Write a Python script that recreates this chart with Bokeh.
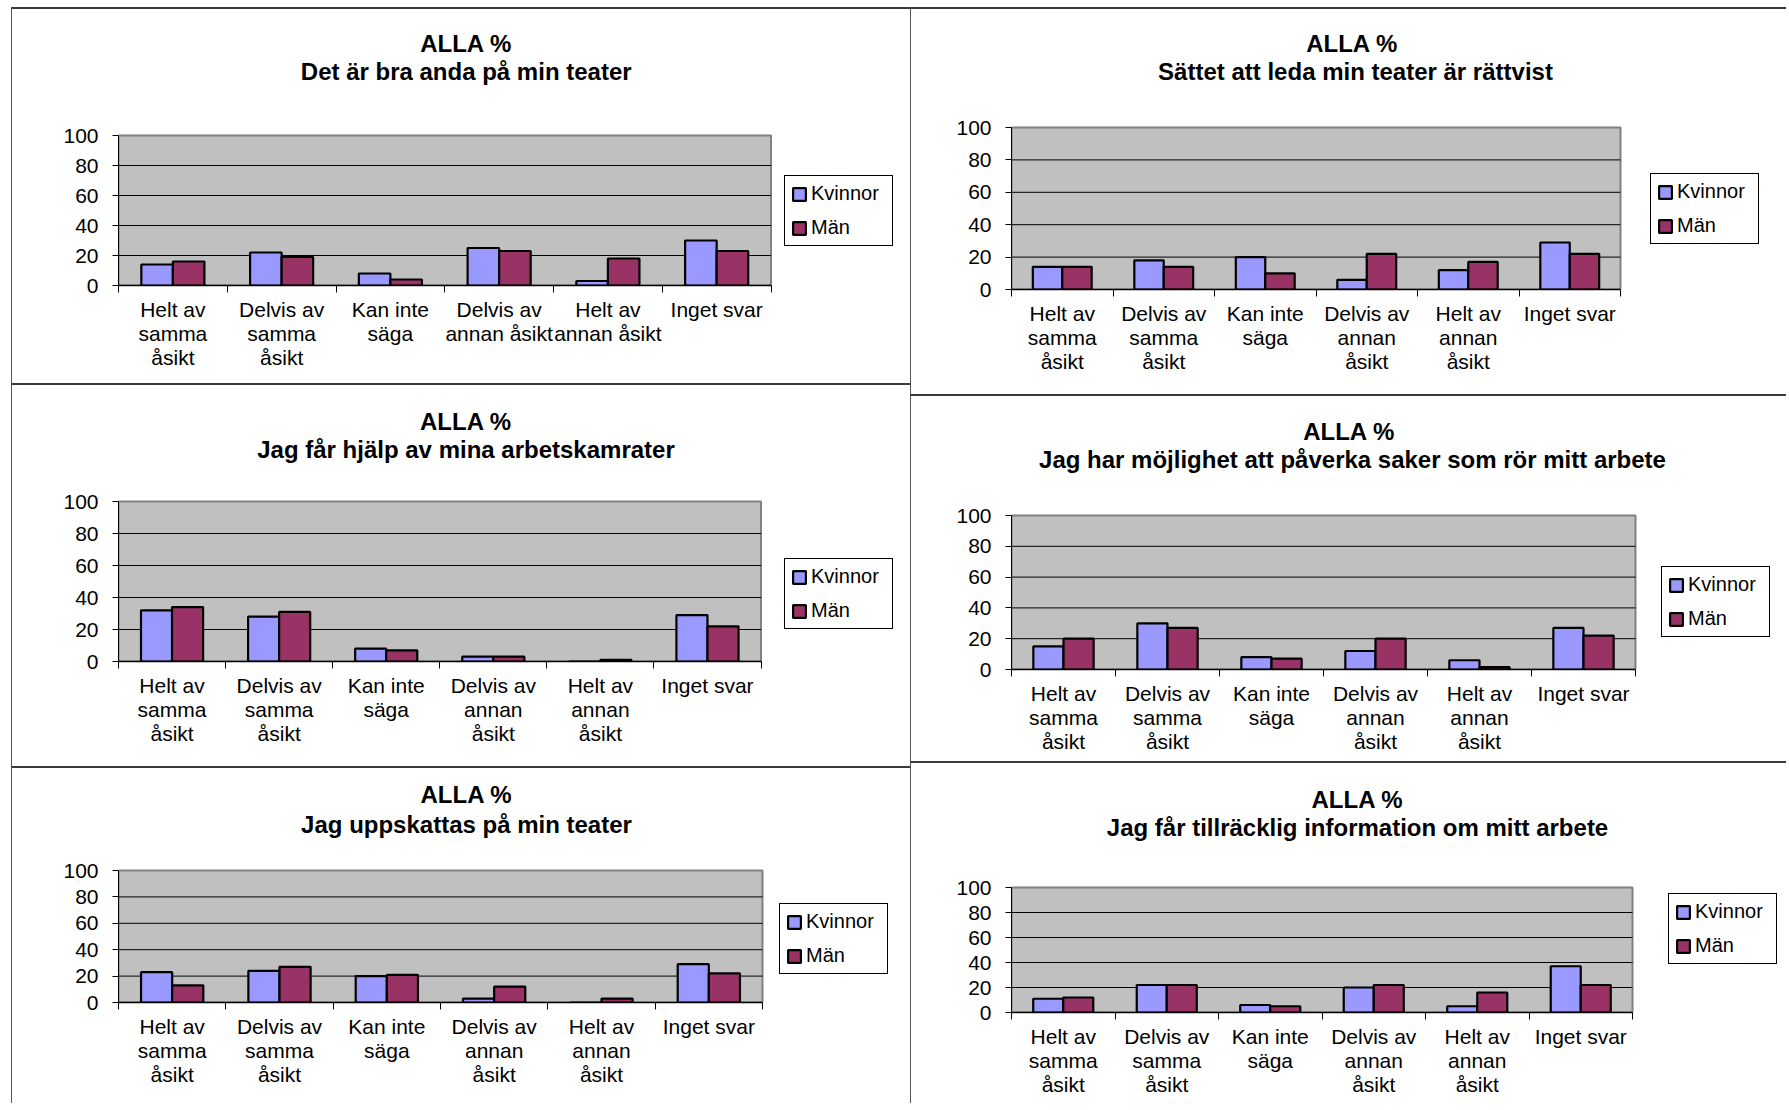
import numpy as np
from bokeh.plotting import figure
from bokeh.models import Range1d, FixedTicker, Legend, LegendItem, Spacer, Label, BoxAnnotation
from bokeh.layouts import row, column
from bokeh.embed import file_html
from bokeh.resources import INLINE

# ---------------- data ----------------
series_names = ["Kvinnor", "Män"]
categories = ["Helt av samma åsikt", "Delvis av samma åsikt", "Kan inte säga",
              "Delvis av annan åsikt", "Helt av annan åsikt", "Inget svar"]
tick_labels_narrow = ["Helt av\nsamma\nåsikt", "Delvis av\nsamma\nåsikt", "Kan inte\nsäga",
                      "Delvis av\nannan åsikt", "Helt av\nannan åsikt", "Inget svar"]
tick_labels = ["Helt av\nsamma\nåsikt", "Delvis av\nsamma\nåsikt", "Kan inte\nsäga",
               "Delvis av\nannan\nåsikt", "Helt av\nannan\nåsikt", "Inget svar"]
y_ticks = [0, 20, 40, 60, 80, 100]
y_max = 100

headers = ["ALLA %", "ALLA  %", "ALLA %", "ALLA  %", "ALLA %", "ALLA %"]
questions = ["Det är bra anda på min teater",
             "Sättet att leda min teater är rättvist",
             "Jag får hjälp av mina arbetskamrater",
             "Jag har möjlighet att påverka saker som rör mitt arbete",
             "Jag uppskattas på min teater",
             "Jag får tillräcklig information om mitt arbete"]

kvinnor_1 = [14, 22, 8, 25, 3, 30]
man_1 = [16, 19, 4, 23, 18, 23]
kvinnor_2 = [14, 18, 20, 6, 12, 29]
man_2 = [14, 14, 10, 22, 17, 22]
kvinnor_3 = [32, 28, 8, 3, 0, 29]
man_3 = [34, 31, 7, 3, 1, 22]
kvinnor_4 = [15, 30, 8, 12, 6, 27]
man_4 = [20, 27, 7, 20, 1.5, 22]
kvinnor_5 = [23, 24, 20, 3, 0, 29]
man_5 = [13, 27, 21, 12, 3, 22]
kvinnor_6 = [11, 22, 6, 20, 5, 37]
man_6 = [12, 22, 5, 22, 16, 22]

# ---------------- layout geometry (page pixels) ----------------
panel_boxes = [(11, 7, 911, 385), (911, 7, 1788, 396), (11, 385, 911, 770),
               (911, 396, 1788, 765), (11, 770, 911, 1109), (911, 765, 1788, 1109)]
frame_boxes = [(115, 135, 770, 285), (1012, 127, 1621, 289), (110, 503, 759, 663),
               (1012, 517, 1636, 671), (118, 874, 762, 1006), (1012, 891, 1633, 1016)]
title_places = [(464, 43, 71), (1356, 43, 71), (461, 423, 451),
                (1353, 433, 461), (466, 798, 828), (1358, 803, 831)]
legend_boxes = [(781, 179, 888, 246), (1651, 177, 1757, 244), (776, 564, 883, 631),
                (1662, 572, 1769, 639), (779, 912, 886, 978), (1669, 900, 1776, 968)]

FONT = "Liberation Sans"
K_COLOR = "#9999FF"
M_COLOR = "#993366"
BT, BL = 2, 1          # css border widths (top, left)


def make_panel(i, labels, kv, mn):
    px0, py0, px1, py1 = panel_boxes[i]
    fx0, fy0, fx1, fy1 = frame_boxes[i]
    n = len(categories)
    ox, oy = px0 + BL, py0 + BT
    w, h = px1 - ox, py1 - oy
    # plot area spans categories 0..n and values 0..y_max; the frame is extended
    # to the right and upward so that titles and legend live inside it
    x_end = n * (px1 - fx0) / (fx1 - fx0)
    y_end = y_max * (fy1 - oy) / (fy1 - fy0)

    def xd(px):
        return n * (px - fx0) / (fx1 - fx0)

    def yd(py):
        return y_max * (fy1 - py) / (fy1 - fy0)

    p = figure(width=w, height=h, output_backend="svg", toolbar_location=None,
               x_range=Range1d(0, x_end), y_range=Range1d(0, y_end),
               min_border_left=fx0 - ox, min_border_right=0,
               min_border_top=0, min_border_bottom=py1 - fy1,
               background_fill_color="white", border_fill_color="white")
    p.styles = {"border-top": f"{BT}px solid #3a3a3a", "border-left": f"{BL}px solid #555555"}
    p.outline_line_color = None
    p.grid.visible = False

    # grey plot area
    p.add_layout(BoxAnnotation(left=0, right=n, bottom=0, top=y_max, level="image",
                               fill_color="#C0C0C0", fill_alpha=1,
                               line_color="#808080", line_width=2, line_alpha=1))
    # horizontal grid lines across the plot area only
    gy = [t for t in y_ticks if 0 < t < y_max]
    p.segment(x0=[0] * len(gy), x1=[n] * len(gy), y0=gy, y1=gy,
              line_color="black", line_width=1, level="underlay")

    centers = np.arange(n) + 0.5
    rk = p.vbar(x=centers - 0.145, top=kv, width=0.29, bottom=0,
                fill_color=K_COLOR, line_color="black", line_width=2.2)
    rm = p.vbar(x=centers + 0.145, top=mn, width=0.29, bottom=0,
                fill_color=M_COLOR, line_color="black", line_width=2.2)

    ya = p.yaxis[0]
    ya.bounds = (0, y_max)
    ya.ticker = FixedTicker(ticks=y_ticks, minor_ticks=[])
    ya.major_tick_out = 6
    ya.major_tick_in = 0
    ya.minor_tick_out = 0
    ya.minor_tick_in = 0
    ya.axis_line_color = "black"
    ya.major_tick_line_color = "black"
    ya.major_label_text_font = FONT
    ya.major_label_text_font_size = "21px"
    ya.major_label_text_color = "black"
    ya.major_label_standoff = 14

    xa = p.xaxis[0]
    xa.bounds = (0, n)
    xa.ticker = FixedTicker(ticks=list(centers), minor_ticks=list(np.arange(n + 1)))
    xa.major_label_overrides = {float(c): lab for c, lab in zip(centers, labels)}
    xa.major_tick_out = 0
    xa.major_tick_in = 0
    xa.minor_tick_out = 7
    xa.minor_tick_in = 0
    xa.minor_tick_line_color = "black"
    xa.axis_line_color = "black"
    xa.axis_line_width = 1.5
    xa.major_label_text_font = FONT
    xa.major_label_text_font_size = "21px"
    xa.major_label_text_color = "black"
    xa.major_label_text_line_height = 1.05
    xa.major_label_standoff = 5

    # titles
    tx, ty1, ty2 = title_places[i]
    for txt, ty in ((headers[i], ty1), (questions[i], ty2)):
        p.add_layout(Label(x=xd(tx), y=yd(ty), text=txt, text_font=FONT,
                           text_font_size="24px", text_font_style="bold",
                           text_align="center", text_baseline="middle", text_color="black"))

    # legend
    lx0, ly0, lx1, ly1 = legend_boxes[i]
    legend = Legend(items=[LegendItem(label=series_names[0], renderers=[rk]),
                           LegendItem(label=series_names[1], renderers=[rm])],
                    location=(lx0 - fx0, fy1 - ly1), margin=0, padding=6, spacing=11,
                    glyph_width=16, glyph_height=16, label_standoff=4,
                    label_width=75, label_height=22,
                    label_text_font=FONT, label_text_font_size="20px",
                    label_text_color="black",
                    border_line_color="black", border_line_width=1, border_line_alpha=1,
                    background_fill_color="white", background_fill_alpha=1)
    p.add_layout(legend)
    return p


data_k = [kvinnor_1, kvinnor_2, kvinnor_3, kvinnor_4, kvinnor_5, kvinnor_6]
data_m = [man_1, man_2, man_3, man_4, man_5, man_6]
label_sets = [tick_labels_narrow, tick_labels, tick_labels, tick_labels, tick_labels, tick_labels]

panels = [make_panel(i, label_sets[i], data_k[i], data_m[i]) for i in range(6)]

left_col = column(panels[0], panels[2], panels[4])
right_col = column(panels[1], panels[3], panels[5])
layout = column(Spacer(width=10, height=7),
                row(Spacer(width=11, height=10), left_col, right_col))

open("out.html", "w").write(file_html(layout, INLINE))
